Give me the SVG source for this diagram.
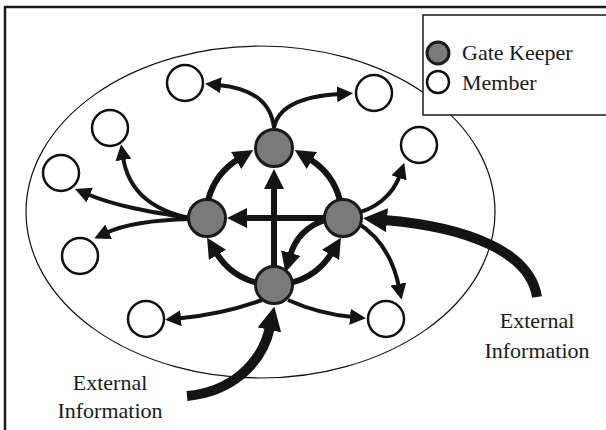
<svg xmlns="http://www.w3.org/2000/svg" width="606" height="430" viewBox="0 0 606 430">
  <defs>
    <style>
      .frame { fill: #fff; stroke: #1a1a1a; stroke-width: 2.5; }
      .group { fill: none; stroke: #111; stroke-width: 1.2; }
      .legend { fill: #fff; stroke: #1a1a1a; stroke-width: 1.5; }
      .gk { fill: #7a7a7a; stroke: #1a1a1a; stroke-width: 3; }
      .mb { fill: #fff; stroke: #111; stroke-width: 2.5; }
      .thin { fill: none; stroke: #141414; stroke-width: 4; marker-end: url(#headThin); }
      .thick { fill: none; stroke: #141414; stroke-width: 6; marker-end: url(#headThick); }
      .ext { fill: none; stroke: #141414; stroke-width: 10; marker-end: url(#headExt); }
      .label { font-family: "Liberation Serif", "Times New Roman", serif; font-size: 22px; fill: #1a1a1a; }
    </style>
    <marker id="headThin" markerUnits="userSpaceOnUse" markerWidth="16" markerHeight="16" refX="3" refY="8" orient="auto">
      <path d="M0,0 L16,8 L0,16 Z" fill="#141414"/>
    </marker>
    <marker id="headThick" markerUnits="userSpaceOnUse" markerWidth="20" markerHeight="20" refX="3" refY="10" orient="auto">
      <path d="M0,0 L20,10 L0,20 Z" fill="#141414"/>
    </marker>
    <marker id="headExt" markerUnits="userSpaceOnUse" markerWidth="24" markerHeight="24" refX="3" refY="12" orient="auto">
      <path d="M0,0 L24,12 L0,24 Z" fill="#141414"/>
    </marker>
  </defs>

  <!-- outer frame -->
  <rect class="frame" x="5" y="7" width="640" height="450"/>

  <!-- group boundary -->
  <ellipse class="group" cx="260.5" cy="212" rx="234.5" ry="166"/>

  <!-- legend -->
  <g id="legend">
    <rect class="legend" x="423" y="15" width="220" height="100"/>
    <circle class="gk" cx="438" cy="53" r="11"/>
    <text class="label" x="462" y="60">Gate Keeper</text>
    <circle class="mb" cx="438" cy="82" r="11"/>
    <text class="label" x="462" y="90">Member</text>
  </g>

  <!-- connectors -->
  <g id="connectors">
    <!-- gate keeper to gate keeper -->
    <path class="thick" d="M274,285 L274,186"/>
    <path class="thick" d="M330,218 L244,218"/>
    <path class="thick" d="M208.3,199.4 A68,68 0 0 1 238.7,158.9"/>
    <path class="thick" d="M339.7,199.4 A68,68 0 0 0 309.3,158.9"/>
    <path class="thick" d="M256.4,282.7 A68,68 0 0 1 215.9,252.3"/>
    <path class="thick" d="M291.6,282.7 A68,68 0 0 0 332.1,252.3"/>
    <path class="thick" d="M325,220 C304,227 294,242 290,256"/>

    <!-- gate keeper to member -->
    <path class="thin" d="M274,128 C271,100 250,88 218,85"/>
    <path class="thin" d="M274,128 C278,105 305,96 340,94"/>
    <path class="thin" d="M190,218 C150,210 128,190 123,157"/>
    <path class="thin" d="M190,218 C150,212 115,206 87,194"/>
    <path class="thin" d="M190,219 C150,220 125,224 106,233"/>
    <path class="thin" d="M352,214 C375,210 393,195 400,175"/>
    <path class="thin" d="M356,222 C378,235 393,258 399,287"/>
    <path class="thin" d="M262,300 C235,310 205,316 178,318.5"/>
    <path class="thin" d="M288,300 C310,310 330,315 353,317"/>

    <!-- external information -->
    <path class="ext" d="M537,297 C530,252 468,227 384,220"/>
    <path class="ext" d="M187,396 C230,392 262,365 270,327"/>
  </g>

  <!-- gate keepers -->
  <g id="gk-top"><circle class="gk" cx="274" cy="148" r="18.5"/></g>
  <g id="gk-left"><circle class="gk" cx="207" cy="218" r="18.5"/></g>
  <g id="gk-right"><circle class="gk" cx="343" cy="218" r="18.5"/></g>
  <g id="gk-bottom"><circle class="gk" cx="274" cy="285" r="18.5"/></g>

  <!-- members -->
  <g id="member-1"><circle class="mb" cx="185" cy="83" r="18"/></g>
  <g id="member-2"><circle class="mb" cx="374" cy="93" r="18"/></g>
  <g id="member-3"><circle class="mb" cx="110" cy="128" r="18"/></g>
  <g id="member-4"><circle class="mb" cx="419" cy="145" r="18"/></g>
  <g id="member-5"><circle class="mb" cx="61" cy="173" r="18"/></g>
  <g id="member-6"><circle class="mb" cx="80" cy="256" r="18"/></g>
  <g id="member-7"><circle class="mb" cx="146" cy="319" r="18"/></g>
  <g id="member-8"><circle class="mb" cx="386" cy="319" r="18"/></g>

  <!-- external information labels -->
  <g id="ext-left">
    <text class="label" x="110" y="390" text-anchor="middle">External</text>
    <text class="label" x="110" y="418" text-anchor="middle">Information</text>
  </g>
  <g id="ext-right">
    <text class="label" x="537" y="328" text-anchor="middle">External</text>
    <text class="label" x="537" y="358" text-anchor="middle">Information</text>
  </g>
</svg>
